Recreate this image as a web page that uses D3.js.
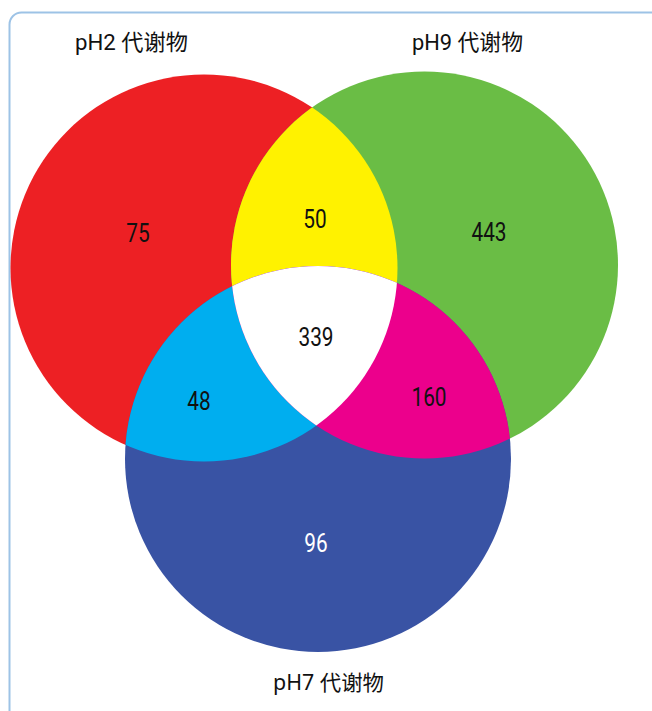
<!DOCTYPE html>
<html>
<head>
<meta charset="utf-8">
<script src="https://cdn.jsdelivr.net/npm/d3@7"></script>
<style>
  html, body { margin: 0; padding: 0; background: #ffffff; }
  svg { display: block; }
</style>
</head>
<body>
<div id="chart"></div>
<script>
// ---- data ----
const setNames = ["pH2 代谢物", "pH9 代谢物", "pH7 代谢物"];
const setColors = ["#ED2024", "#6ABD45", "#3953A4"];
const regionSets = [["pH2"], ["pH9"], ["pH7"], ["pH2", "pH9"], ["pH2", "pH7"], ["pH9", "pH7"], ["pH2", "pH9", "pH7"]];
const regionCounts = [75, 443, 96, 50, 48, 160, 339];
const overlapColors = ["#FFF200", "#00AEEF", "#EC008C", "#FFFFFF"];

// ---- layout (not data) ----
const W = 652, H = 711;
const x = d3.scaleLinear().domain([0, 652]).range([0, W]);
const y = d3.scaleLinear().domain([0, 711]).range([0, H]);
const circles = [
  { key: "pH2", cx: 204, cy: 268, r: 193.5 },
  { key: "pH9", cx: 424.5, cy: 265, r: 193.5 },
  { key: "pH7", cx: 318, cy: 459, r: 193 }
];
const labelPos = [[138, 233], [489, 232], [316, 543], [315, 219], [199, 401], [429, 397], [316, 337]];
const titlePos = [[131.5, 50], [467.5, 50], [328.5, 690]];
const titleLen = [113, 111, 111];

const svg = d3.select("#chart").append("svg")
  .attr("width", W).attr("height", H);

// frame
svg.append("rect")
  .attr("x", 9.5).attr("y", 12.5)
  .attr("width", 760).attr("height", 800)
  .attr("rx", 12).attr("ry", 12)
  .attr("fill", "none")
  .attr("stroke", "#9DC3E6")
  .attr("stroke-width", 2);

const defs = svg.append("defs");
circles.forEach(c => {
  defs.append("clipPath").attr("id", "clip-" + c.key)
    .append("circle")
    .attr("cx", x(c.cx)).attr("cy", y(c.cy)).attr("r", x(c.r) - x(0));
});

const g = svg.append("g");
function drawCircle(parent, c, fill) {
  parent.append("circle")
    .attr("cx", x(c.cx)).attr("cy", y(c.cy)).attr("r", x(c.r) - x(0))
    .attr("fill", fill);
}
// single sets
circles.forEach((c, i) => drawCircle(g, c, setColors[i]));
// pairwise overlaps
const pairs = [[0, 1], [0, 2], [1, 2]];
pairs.forEach((p, i) => {
  const gp = g.append("g").attr("clip-path", "url(#clip-" + circles[p[0]].key + ")");
  drawCircle(gp, circles[p[1]], overlapColors[i]);
});
// triple overlap
const g3 = g.append("g").attr("clip-path", "url(#clip-" + circles[0].key + ")")
  .append("g").attr("clip-path", "url(#clip-" + circles[1].key + ")");
drawCircle(g3, circles[2], overlapColors[3]);

// region counts (condensed look: Roboto squeezed horizontally)
svg.append("g").selectAll("text")
  .data(regionCounts)
  .join("text")
  .attr("transform", (d, i) => `translate(${x(labelPos[i][0])},${y(labelPos[i][1])}) scale(0.8,1)`)
  .attr("text-anchor", "middle")
  .attr("dominant-baseline", "central")
  .attr("font-family", "Roboto, 'DejaVu Sans Condensed', sans-serif")
  .attr("font-size", 26)
  .attr("fill", (d, i) => regionSets[i].length === 1 && regionSets[i][0] === "pH7" ? "#ffffff" : "#111111")
  .text(d => d);

// set titles
svg.append("g").selectAll("text")
  .data(setNames)
  .join("text")
  .attr("x", (d, i) => x(titlePos[i][0]))
  .attr("y", (d, i) => y(titlePos[i][1]))
  .attr("text-anchor", "middle")
  .attr("font-family", (d, i) => i < 2
    ? "Roboto, 'Noto Sans CJK SC', sans-serif"
    : "'Noto Sans', 'Noto Sans CJK SC', sans-serif")
  .attr("font-size", (d, i) => i < 2 ? 22 : 21)
  .attr("fill", "#111111")
  .attr("textLength", (d, i) => titleLen[i])
  .attr("lengthAdjust", "spacingAndGlyphs")
  .text(d => d);
</script>
</body>
</html>
